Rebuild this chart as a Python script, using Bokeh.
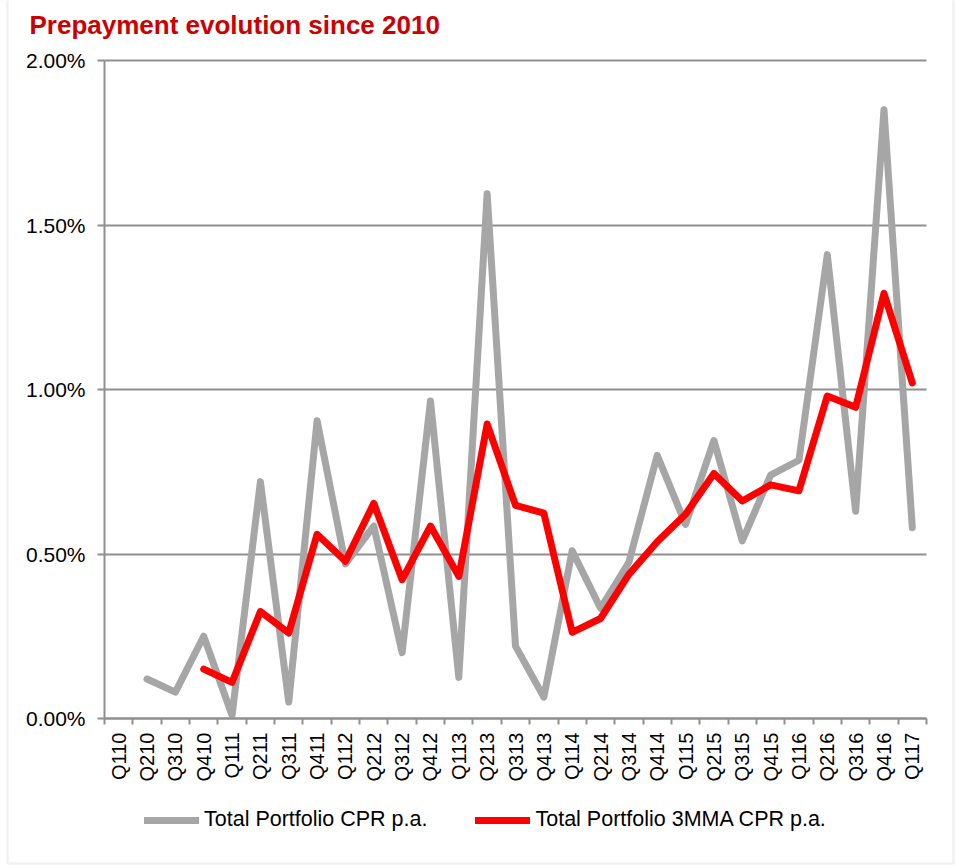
import math
from bokeh.plotting import figure
from bokeh.models import (ColumnDataSource, Range1d, FixedTicker, PrintfTickFormatter,
                          Legend, LegendItem, Label, BoxAnnotation)
from bokeh.embed import file_html
from bokeh.resources import INLINE

nan = float("nan")

quarters = ["Q110", "Q210", "Q310", "Q410", "Q111", "Q211", "Q311", "Q411",
            "Q112", "Q212", "Q312", "Q412", "Q113", "Q213", "Q313", "Q413",
            "Q114", "Q214", "Q314", "Q414", "Q115", "Q215", "Q315", "Q415",
            "Q116", "Q216", "Q316", "Q416", "Q117"]

cpr_pa = [nan, 0.12, 0.08, 0.25, 0.01, 0.72, 0.05, 0.905, 0.47, 0.585, 0.20, 0.965,
          0.125, 1.595, 0.22, 0.065, 0.51, 0.335, 0.475, 0.80, 0.59, 0.845, 0.54,
          0.74, 0.785, 1.41, 0.63, 1.85, 0.58]

cpr_3mma = [nan, nan, nan, 0.15, 0.11, 0.325, 0.26, 0.56, 0.478, 0.654, 0.422, 0.585,
            0.432, 0.895, 0.648, 0.624, 0.262, 0.304, 0.438, 0.537, 0.621, 0.745,
            0.661, 0.71, 0.692, 0.98, 0.946, 1.292, 1.02]

y_ticks = [0.0, 0.5, 1.0, 1.5, 2.0]

n = len(quarters)
xpos = [i + 0.5 for i in range(n)]
src = ColumnDataSource(dict(x=xpos, q=quarters, cpr=cpr_pa, mma=cpr_3mma))

FONT = "Liberation Sans"
GRID = "#8f8f8f"

# canvas layout (pixels): plot area from x=104..926, y=60..718 on a 955x868 canvas
W, H = 955, 868
L, R, T, B = 104, 926, 60, 718
ymax = y_ticks[-1]
px_x = (R - L) / n
px_y = (B - T) / ymax
x_range = Range1d(-L / px_x, n + (W - R) / px_x)
y_range = Range1d(-(H - B) / px_y, ymax + T / px_y)

p = figure(width=W, height=H, output_backend="svg", toolbar_location=None,
           x_range=x_range, y_range=y_range,
           min_border=0, min_border_left=0, min_border_right=0,
           min_border_top=0, min_border_bottom=0)

p.outline_line_color = None
p.background_fill_color = "white"
p.border_fill_color = "white"

# grid
p.xgrid.grid_line_color = None
p.ygrid.ticker = FixedTicker(ticks=y_ticks)
p.ygrid.grid_line_color = GRID
p.ygrid.grid_line_width = 2
p.ygrid.cross_bounds = (0, n)

# y axis
p.yaxis.fixed_location = 0
p.yaxis.bounds = (0, ymax)
p.yaxis.ticker = FixedTicker(ticks=y_ticks)
p.yaxis.formatter = PrintfTickFormatter(format="%.2f%%")
p.yaxis.axis_line_color = GRID
p.yaxis.axis_line_width = 2
p.yaxis.major_tick_line_color = GRID
p.yaxis.major_tick_line_width = 2
p.yaxis.major_tick_out = 7
p.yaxis.major_tick_in = 0
p.yaxis.minor_tick_line_color = None
p.yaxis.major_label_text_font = FONT
p.yaxis.major_label_text_font_size = "21px"
p.yaxis.major_label_text_color = "black"
p.yaxis.major_label_standoff = 12

# x axis: labels at category centres, ticks at boundaries
p.xaxis.fixed_location = 0
p.xaxis.bounds = (0, n)
p.xaxis.ticker = FixedTicker(ticks=xpos, minor_ticks=list(range(n + 1)))
p.xaxis.major_label_overrides = {x: q for x, q in zip(xpos, quarters)}
p.xaxis.major_label_orientation = math.pi / 2
p.xaxis.axis_line_color = GRID
p.xaxis.axis_line_width = 2
p.xaxis.major_tick_line_color = None
p.xaxis.major_tick_out = 6
p.xaxis.major_tick_in = 0
p.xaxis.minor_tick_line_color = GRID
p.xaxis.minor_tick_line_width = 2
p.xaxis.minor_tick_out = 6
p.xaxis.minor_tick_in = 0
p.xaxis.major_label_text_font = FONT
p.xaxis.major_label_text_font_size = "20px"
p.xaxis.major_label_text_color = "black"
p.xaxis.major_label_standoff = 8

r1 = p.line("x", "cpr", source=src, line_color="#a6a6a6", line_width=7,
            line_join="round", line_cap="round")
r2 = p.line("x", "mma", source=src, line_color="#ff0000", line_width=7,
            line_join="round", line_cap="round")

legend = Legend(items=[LegendItem(label="Total Portfolio CPR p.a.", renderers=[r1]),
                       LegendItem(label="Total Portfolio 3MMA CPR p.a.", renderers=[r2])],
                orientation="horizontal", location=(144, 36),
                border_line_color=None, background_fill_alpha=0,
                padding=0, margin=0, glyph_width=55, glyph_height=20,
                label_standoff=5, spacing=48, label_height=24,
                label_text_font=FONT, label_text_font_size="21.5px",
                label_text_color="black")
p.add_layout(legend, "center")

title = Label(x=29, y=9, x_units="canvas", y_units="canvas",
              text="Prepayment evolution since 2010", text_font=FONT,
              text_font_size="26px", text_font_style="bold", text_color="#cc0000",
              text_baseline="top", text_align="left")
p.add_layout(title)

border = BoxAnnotation(left=7, right=953, top=-5, bottom=863,
                       left_units="canvas", right_units="canvas",
                       top_units="canvas", bottom_units="canvas",
                       fill_alpha=0, line_color="#d0d0d0", line_width=2.5)
p.add_layout(border)

open("out.html", "w").write(file_html(p, INLINE))
